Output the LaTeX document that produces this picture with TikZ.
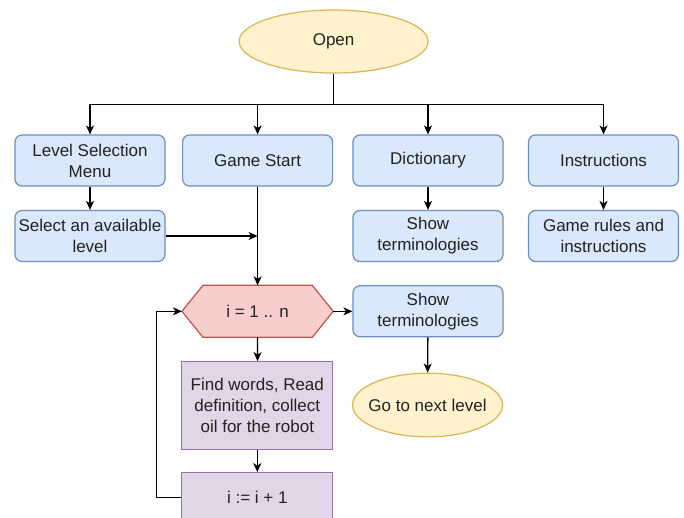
\documentclass[tikz,border=0pt]{standalone}
\usepackage{fontspec}
\setmainfont{Liberation Sans}
\usetikzlibrary{shapes.geometric,arrows.meta}
\definecolor{bluefill}{HTML}{DAE8FC}
\definecolor{blueline}{HTML}{6C8EBF}
\definecolor{yellowfill}{HTML}{FFF2CC}
\definecolor{yellowline}{HTML}{D6B656}
\definecolor{redfill}{HTML}{F8CECC}
\definecolor{redline}{HTML}{B85450}
\definecolor{purplefill}{HTML}{E1D5E7}
\definecolor{purpleline}{HTML}{9673A6}
\definecolor{ink}{HTML}{222222}

\begin{document}
\begin{tikzpicture}[x=1pt, y=-1pt,
  font=\fontsize{17}{21}\selectfont, text=ink,
  >={Stealth[length=9pt,width=8pt,inset=2.5pt]},
  line width=1.3pt,
  bluebox/.style={draw=blueline, fill=bluefill, rounded corners=7pt, line width=1.2pt,
    minimum width=150pt, minimum height=51pt, inner sep=0pt, align=center},
  purplebox/.style={draw=purpleline, fill=purplefill, line width=1.2pt,
    minimum width=151pt, inner sep=0pt, align=center},
  terminal/.style={ellipse, draw=yellowline, fill=yellowfill, line width=1.2pt,
    inner sep=0pt, align=center}]
\useasboundingbox (0,0) rectangle (684,517);
\clip (0,0) rectangle (684,517);

\node[terminal, minimum width=189pt, minimum height=63pt] (open) at (333.6, 41.5) {};
\node at (open) {Open};

\node[bluebox] (lsm) at (90, 160.5) {Level Selection\\Menu};
\node[bluebox] (gs) at (257.6, 160.5) {Game Start};
\node[bluebox] (dic) at (428, 160.5) {Dictionary};
\node[bluebox] (ins) at (603.5, 160.5) {Instructions};

\node[bluebox] (sel) at (90, 236) {Select an available\\level};
\node[bluebox] (sh1) at (428, 236) {Show\\terminologies};
\node[bluebox] (rules) at (603.5, 236) {Game rules and\\instructions};

\node[minimum width=150pt, minimum height=50.7pt, inner sep=0pt] (loop) at (257.6, 311.3) {};
\draw[draw=redline, fill=redfill, line width=1.2pt] (loop.west) -- ([xshift=21pt]loop.north west) -- ([xshift=-21pt]loop.north east)
  -- (loop.east) -- ([xshift=-21pt]loop.south east) -- ([xshift=21pt]loop.south west) -- cycle;
\node at (loop) {i = 1 .. n};
\node[bluebox] (sh2) at (428, 311.3) {Show\\terminologies};

\node[purplebox, minimum height=87.6pt] (find) at (257.3, 405.5) {Find words, Read\\definition, collect\\oil for the robot};
\node[terminal, minimum width=150pt, minimum height=63.7pt] (next) at (427.5, 405) {};
\node at (next) {Go to next level};
\node[purplebox, minimum height=50pt] (incr) at (257.3, 497.7) {i := i + 1};

\coordinate (bus) at (333.6, 104.3);
\draw (open.south) -- (bus);
\foreach \n in {lsm, gs, dic, ins}
  \draw[->] (bus) -| (\n.north);
\draw[->] (lsm) -- (sel);
\draw[->] (dic) -- (sh1);
\draw[->] (ins) -- (rules);
\draw[->] (sel.east) -- (sel.east -| gs.south);
\draw[->] (gs.south) -- (loop.north);
\draw[->] (loop.east) -- (sh2.west);
\draw[->] (sh2) -- (next);
\draw[->] (loop.south) -- (find);
\draw[->] (find) -- (incr);
\draw[->] (incr.west) -- ++(-25,0) |- (loop.west);
\end{tikzpicture}
\end{document}
